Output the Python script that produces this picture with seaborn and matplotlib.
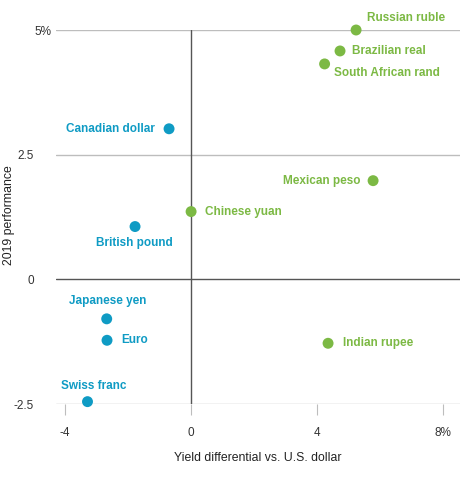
import matplotlib
matplotlib.use("Agg")
import matplotlib.pyplot as plt
import matplotlib.transforms as mtransforms
import seaborn as sns
import pandas as pd

currencies = ["Russian ruble", "Brazilian real", "South African rand", "Canadian dollar",
              "Mexican peso", "Chinese yuan", "British pound", "Japanese yen", "Euro",
              "Swiss franc", "Indian rupee"]
yield_diff = [5.24, 4.73, 4.24, -0.70, 5.78, 0.0, -1.78, -2.68, -2.67, -3.29, 4.35]
performance = [5.0, 4.58, 4.32, 3.02, 1.98, 1.36, 1.06, -0.79, -1.22, -2.45, -1.28]
group = ["em", "em", "em", "dm", "em", "em", "dm", "dm", "dm", "dm", "em"]

x_ticks = [-4, 0, 4, 8]
x_tick_labels = ["-4", "0", "4", "8%"]
y_ticks = [-2.5, 0, 2.5, 5]
y_tick_labels = ["-2.5", "0", "2.5", "5%"]

# label offsets in pixels (dx, dy) and alignment
label_pos = {
    "Russian ruble": (11, 12, "left", "center"),
    "Brazilian real": (12, 0, "left", "center"),
    "South African rand": (9, -9, "left", "center"),
    "Canadian dollar": (-14, 0, "right", "center"),
    "Mexican peso": (-13, 0, "right", "center"),
    "Chinese yuan": (14, 0, "left", "center"),
    "British pound": (-1, -16, "center", "center"),
    "Japanese yen": (1, 18, "center", "center"),
    "Euro": (14, 0, "left", "center"),
    "Swiss franc": (6, 16, "center", "center"),
    "Indian rupee": (15, 0, "left", "center"),
}

BLUE = "#0f9bc4"
GREEN = "#7cb944"
palette = {"dm": BLUE, "em": GREEN}

df = pd.DataFrame({"currency": currencies, "x": yield_diff, "y": performance, "group": group})

sns.set_theme(style="white")
plt.rcParams["font.family"] = ["Liberation Sans", "DejaVu Sans"]

fig = plt.figure(figsize=(4.61, 4.84), dpi=100)
ax = fig.add_axes([0.1215, 0.165, 0.877, 0.773])

for yv in [-2.5, 2.5, 5]:
    ax.axhline(yv, color="#bdbdbd", lw=1, zorder=0)
ax.axhline(0, color="#555555", lw=1, zorder=1)
ax.axvline(0, color="#555555", lw=1, zorder=1)

sns.scatterplot(data=df, x="x", y="y", hue="group", palette=palette, s=62,
                edgecolor="none", legend=False, ax=ax, zorder=3, clip_on=False)

for c, xv, yv, g in zip(currencies, yield_diff, performance, group):
    dx, dy, ha, va = label_pos[c]
    ax.annotate(c, (xv, yv), xytext=(dx, dy), textcoords="offset pixels",
                ha=ha, va=va, color=palette[g], fontsize=8.5, fontweight="bold")

ax.set_xlim(-4.29, 8.55)
ax.set_ylim(-2.5, 5)
ax.set_xticks(x_ticks)
ax.set_xticklabels(x_tick_labels)
ax.set_yticks(y_ticks)
# the top label ("5%") sits further right than the others, drawn separately below
ax.set_yticklabels([t if t != "5%" else "" for t in y_tick_labels])
for s in ax.spines.values():
    s.set_visible(False)
ax.tick_params(axis="x", bottom=True, length=8, width=0.8, color="#bdbdbd",
               labelsize=8.5, labelcolor="#333333", pad=8.5)
ax.tick_params(axis="y", left=False, labelsize=8.5, labelcolor="#333333", pad=10)

trans = mtransforms.blended_transform_factory(ax.transAxes, ax.transData)
for yv, t in zip(y_ticks, y_tick_labels):
    if t == "5%":
        ax.text(-5 / (0.877 * 461), yv, t, transform=trans, ha="right", va="center_baseline",
                fontsize=8.5, color="#333333")

ax.set_xlabel("Yield differential vs. U.S. dollar", fontsize=8.8, color="#222222", labelpad=9)
ax.set_ylabel("2019 performance", fontsize=8.8, color="#222222")
ax.yaxis.set_label_coords(-0.102, 0.505)

fig.savefig("out.png", dpi=100)
